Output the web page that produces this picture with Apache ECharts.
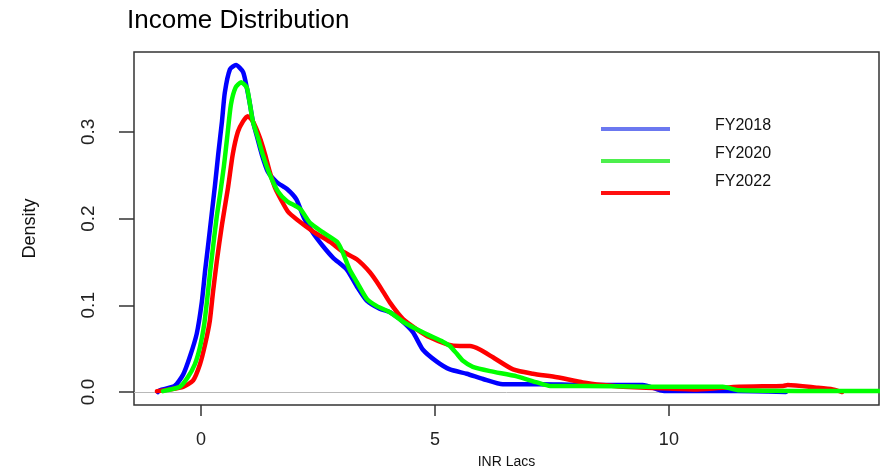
<!DOCTYPE html>
<html>
<head>
<meta charset="utf-8">
<title>Income Distribution</title>
<script src="https://cdn.jsdelivr.net/npm/echarts@6/dist/echarts.min.js"></script>
<style>
  html, body { margin: 0; padding: 0; background: #fff; }
  #chart { width: 880px; height: 474px; }
</style>
</head>
<body>
<div id="chart"></div>
<script>
// Kernel density estimates of income (INR lakhs), one curve per fiscal year.
const seriesNames = ['FY2018', 'FY2020', 'FY2022'];

const fy2018 = [
  [-0.92, 0.000], [-0.88, 0.002], [-0.56, 0.007], [-0.38, 0.020], [-0.24, 0.040],
  [-0.09, 0.067], [0.02, 0.104], [0.09, 0.140], [0.16, 0.172], [0.23, 0.205],
  [0.30, 0.238], [0.37, 0.274], [0.45, 0.312], [0.51, 0.345], [0.62, 0.372],
  [0.75, 0.377], [0.90, 0.369], [0.98, 0.351], [1.05, 0.331], [1.11, 0.312],
  [1.20, 0.294], [1.30, 0.274], [1.43, 0.254], [1.62, 0.242], [1.84, 0.234],
  [2.04, 0.222], [2.20, 0.201], [2.40, 0.183], [2.61, 0.168], [2.82, 0.155],
  [3.12, 0.141], [3.33, 0.122], [3.55, 0.105], [3.82, 0.096], [4.04, 0.092],
  [4.25, 0.084], [4.53, 0.069], [4.74, 0.049], [5.04, 0.035], [5.32, 0.026],
  [5.68, 0.021], [6.03, 0.015], [6.45, 0.009], [7.24, 0.009], [8.16, 0.008],
  [9.44, 0.008], [9.81, 0.002], [10.02, 0.001], [11.45, 0.001], [12.50, 0.000]
];

const fy2020 = [
  [-0.81, 0.001], [-0.45, 0.006], [-0.28, 0.017], [-0.13, 0.032], [-0.02, 0.052],
  [0.07, 0.078], [0.13, 0.105], [0.20, 0.140], [0.27, 0.172], [0.34, 0.203],
  [0.42, 0.232], [0.49, 0.260], [0.56, 0.293], [0.64, 0.331], [0.74, 0.351],
  [0.86, 0.357], [0.98, 0.351], [1.05, 0.331], [1.11, 0.312], [1.22, 0.293],
  [1.32, 0.274], [1.47, 0.251], [1.65, 0.231], [1.84, 0.220], [2.12, 0.211],
  [2.33, 0.195], [2.61, 0.184], [2.91, 0.173], [3.03, 0.161], [3.18, 0.141],
  [3.33, 0.127], [3.55, 0.107], [3.76, 0.099], [4.04, 0.092], [4.32, 0.081],
  [4.62, 0.072], [4.89, 0.065], [5.17, 0.058], [5.32, 0.053], [5.47, 0.044],
  [5.60, 0.036], [5.81, 0.029], [6.18, 0.024], [6.75, 0.018], [7.18, 0.011],
  [7.46, 0.007], [8.16, 0.007], [9.59, 0.006], [11.15, 0.006], [11.50, 0.002],
  [14.50, 0.001]
];

const fy2022 = [
  [-0.94, 0.001], [-0.66, 0.003], [-0.38, 0.006], [-0.17, 0.013], [-0.02, 0.032],
  [0.09, 0.055], [0.19, 0.082], [0.26, 0.116], [0.34, 0.151], [0.45, 0.193],
  [0.58, 0.236], [0.68, 0.274], [0.79, 0.300], [0.90, 0.312],
  [1.00, 0.318], [1.11, 0.312], [1.26, 0.293], [1.37, 0.274], [1.47, 0.254],
  [1.58, 0.236], [1.73, 0.220], [1.86, 0.208], [2.05, 0.199], [2.40, 0.185],
  [2.76, 0.173], [3.03, 0.162], [3.33, 0.153], [3.61, 0.138], [3.82, 0.122],
  [4.04, 0.103], [4.32, 0.084], [4.62, 0.072], [4.89, 0.063], [5.26, 0.055],
  [5.53, 0.053], [5.75, 0.053], [5.96, 0.049], [6.24, 0.040], [6.67, 0.026],
  [7.09, 0.021], [7.61, 0.017], [8.16, 0.011], [8.59, 0.008], [9.02, 0.006],
  [10.00, 0.004], [10.60, 0.003], [11.50, 0.006], [12.44, 0.007], [12.54, 0.008],
  [13.16, 0.005], [13.50, 0.003], [13.70, 0.000]
];

const xTicks = [0, 5, 10];
const yTicks = [0, 0.1, 0.2, 0.3];

const lineColors = ['#0000ff', '#00ff00', '#ff0000'];
const legendColors = ['#6b78f0', '#4def4d', '#ff1010'];
const curves = [fy2018, fy2020, fy2022];

const FONT = 'Liberation Sans, Arial, sans-serif';
const chart = echarts.init(document.getElementById('chart'), null, { renderer: 'canvas' });

// Draw order: blue, red, then green on top
const drawOrder = [0, 2, 1];
const series = drawOrder.map((i, k) => ({
  name: seriesNames[i],
  type: 'line',
  data: curves[i],
  showSymbol: false,
  smooth: 0.2,
  z: 3 + k,
  lineStyle: { color: lineColors[i], width: 4.5, join: 'round', cap: 'round' },
  silent: true,
  markLine: k === 0 ? {
    silent: true,
    symbol: 'none',
    label: { show: false },
    z: 1,
    lineStyle: { color: '#b8b8b8', width: 1, type: 'solid' },
    data: [{ yAxis: 0 }]
  } : undefined
}));

// Legend drawn as line swatches with labels to the right
const legendGraphics = [];
seriesNames.forEach((name, i) => {
  legendGraphics.push({
    type: 'line',
    shape: { x1: 601, y1: 129 + i * 32, x2: 670, y2: 129 + i * 32 },
    style: { stroke: legendColors[i], lineWidth: 4 }
  });
  legendGraphics.push({
    type: 'text',
    x: 715,
    y: 126 + i * 28,
    style: {
      text: name, fill: '#111', font: '16px ' + FONT,
      textVerticalAlign: 'middle', verticalAlign: 'middle'
    }
  });
});

chart.setOption({
  animation: false,
  backgroundColor: '#ffffff',
  title: {
    text: 'Income Distribution',
    left: 122,
    top: 3,
    textStyle: { fontSize: 26, fontWeight: 'normal', color: '#000', fontFamily: FONT }
  },
  grid: {
    left: 134, top: 52, right: 1, bottom: 68,
    show: true, borderColor: '#333', borderWidth: 1.5, backgroundColor: 'transparent'
  },
  xAxis: {
    type: 'value',
    min: -1.43,
    max: 14.49,
    axisLine: { show: false, onZero: false },
    splitLine: { show: false },
    axisTick: { show: true, customValues: xTicks, length: 11, lineStyle: { color: '#333', width: 1.5 } },
    axisLabel: { customValues: xTicks, fontSize: 18, margin: 26, color: '#222', fontFamily: FONT },
    name: 'INR Lacs',
    nameLocation: 'middle',
    nameGap: 50,
    nameTextStyle: { fontSize: 14, color: '#111', fontFamily: FONT }
  },
  yAxis: {
    type: 'value',
    min: -0.015,
    max: 0.392,
    axisLine: { show: false, onZero: false },
    splitLine: { show: false },
    axisTick: { show: true, customValues: yTicks, length: 15, lineStyle: { color: '#333', width: 1.5 } },
    axisLabel: {
      customValues: yTicks, rotate: 90, fontSize: 19, margin: 36, color: '#222', fontFamily: FONT,
      formatter: v => v.toFixed(1)
    },
    name: 'Density',
    nameLocation: 'middle',
    nameRotate: 90,
    nameGap: 95,
    nameTextStyle: { fontSize: 18, color: '#111', fontFamily: FONT }
  },
  graphic: legendGraphics,
  series: series
});
</script>
</body>
</html>
